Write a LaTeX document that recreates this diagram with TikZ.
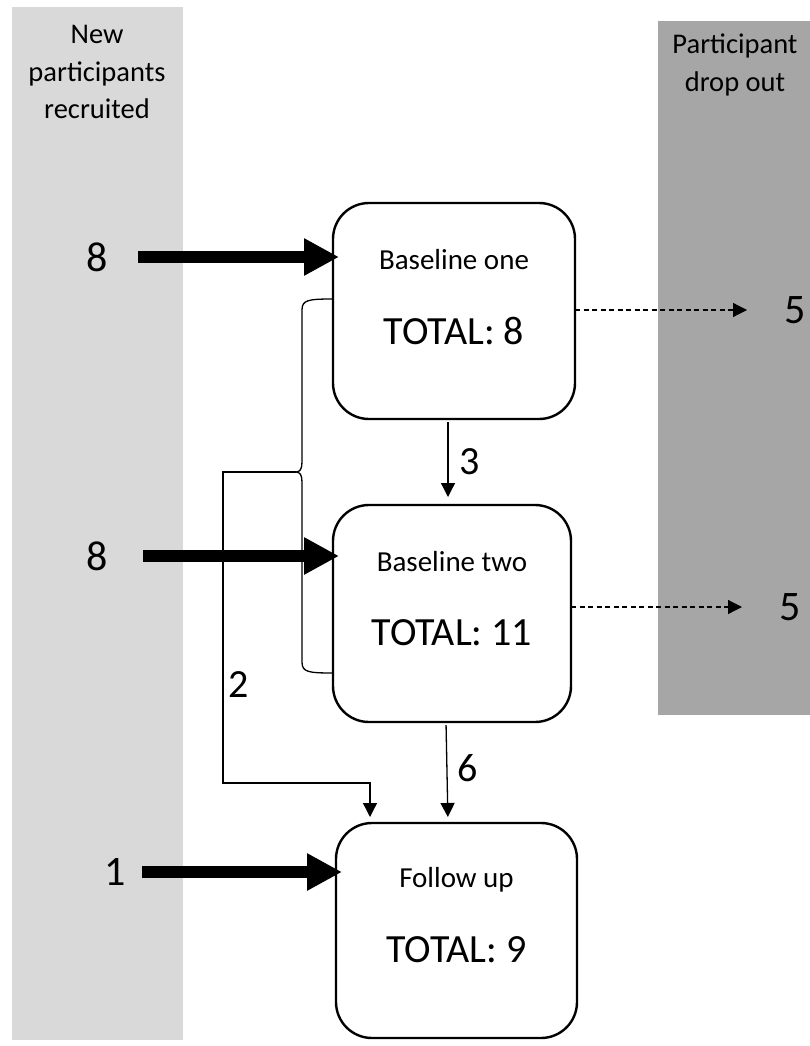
\documentclass[tikz,border=0pt]{standalone}
\usepackage{fontspec}
\setmainfont{Carlito}
\usepackage{tikz}
\usetikzlibrary{arrows.meta}
\definecolor{recruitgray}{HTML}{D9D9D9}
\definecolor{dropgray}{HTML}{A6A6A6}
\tikzset{>/.tip={Triangle[length=14pt,width=14pt]},
  stage/.style={draw, line width=2.4pt, rounded corners=36pt, fill=white,
    inner sep=0pt, outer sep=0pt},
  head/.style={align=center, font=\fontsize{28.5}{37.5}\selectfont},
  title/.style={font=\fontsize{29}{32}\selectfont},
  total/.style={font=\fontsize{40}{44}\selectfont},
  count/.style={font=\fontsize{42}{46}\selectfont},
  flowlab/.style={font=\fontsize{40}{44}\selectfont},
  push/.style={line width=12pt, -{Triangle[length=35pt,width=35pt]}},
  flow/.style={line width=1.3pt, ->},
  drop/.style={line width=1.2pt, dash pattern=on 5pt off 3.5pt, ->}}

\begin{document}
\begin{tikzpicture}[x=1pt, y=-1pt]
\useasboundingbox (0,0) rectangle (810,1046);
\fill[recruitgray] (12,7) rectangle (183,1040);
\fill[dropgray] (658,21) rectangle (810,715);
\node[head] (hin) at (97,72) {New\\participants\\recruited};
\node[head] (hout) at (735,65) {Participant\\drop out};

\node[stage, minimum width=242pt, minimum height=216pt] (b1) at (454,311) {};
\node[stage, minimum width=238pt, minimum height=217pt] (b2) at (452,613.5) {};
\node[stage, minimum width=241pt, minimum height=215pt] (b3) at (456.5,930.5) {};
\path (b1.north) ++(0,57) node[title] (t1) {Baseline one};
\path (b1.north) ++(0,128) node[total] (s1) {TOTAL: 8};
\path (b2.north) ++(0,57) node[title] (t2) {Baseline two};
\path (b2.north) ++(0,128) node[total] (s2) {TOTAL: 11};
\path (b3.north) ++(0,57) node[title] (t3) {Follow up};
\path (b3.north) ++(0,127) node[total] (s3) {TOTAL: 9};

\node[count] (n1) at (97,257) {8};
\node[count] (n2) at (97,556) {8};
\node[count] (n3) at (115,872) {1};
\node[count] (o1) at (795,310) {5};
\node[count] (o2) at (790,607) {5};
\foreach \n/\b/\s in {n1/b1/41, n2/b2/46, n3/b3/27}
{
  \draw[push] ([xshift=\s pt]\n.center) -- ([xshift=6pt]\n -| \b.west);
}
\foreach \b/\o in {b1/o1, b2/o2}
{
  \draw[drop] (\b.east |- \o) -- ([xshift=-48pt]\o.center);
}

\draw[flow, shorten <=3pt, shorten >=8pt] ([xshift=-6pt]b1.south) to ([xshift=-4pt]b2.north);
\node[flowlab] (l3) at (470,462) {3};
\draw[flow, shorten <=3pt, shorten >=6pt] ([xshift=-6pt]b2.south) to ([xshift=-8.5pt]b3.north);
\node[flowlab] (l6) at (468,768) {6};

\coordinate (cusp) at (296,472);
\coordinate (join) at (370,783);
\draw[line width=1.3pt] (333,299) .. controls (308,299) and (302,300) .. (302,310)
  -- (302,462) .. controls (302,469) and (300,472) .. (cusp)
  .. controls (300,472) and (302,475) .. (302,482)
  -- (302,662) .. controls (302,672) and (308,673) .. (333,673);
\draw[flow, shorten >=6pt] (cusp) -| (223,783) -- (join) -- (join |- b3.north);
\node[flowlab] (l2) at (239,685) {2};
\end{tikzpicture}
\end{document}
